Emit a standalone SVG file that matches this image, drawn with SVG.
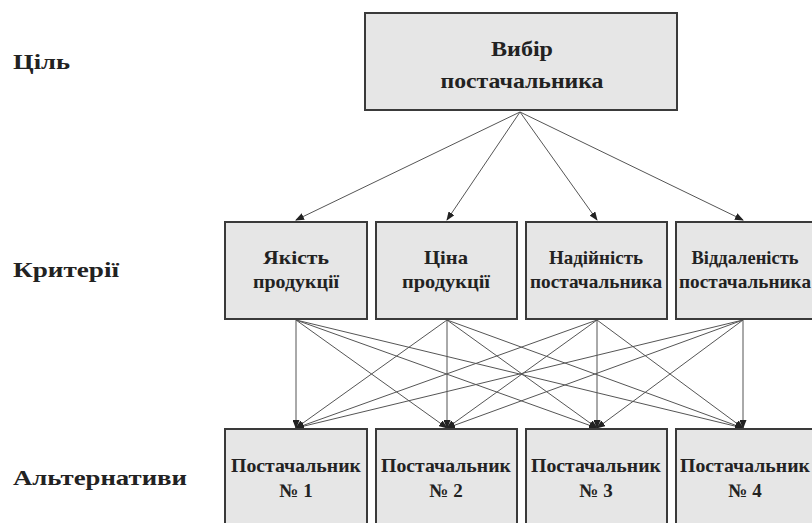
<svg xmlns="http://www.w3.org/2000/svg" width="812" height="523" viewBox="0 0 812 523">
<style>
.box{fill:#e6e6e6;stroke:#3a3a3a;stroke-width:2}
.t{font-family:"Liberation Serif","DejaVu Serif",serif;font-weight:bold;fill:#222;text-anchor:middle}
.lbl{font-family:"Liberation Serif","DejaVu Serif",serif;font-weight:bold;fill:#222;font-size:22px}
.c line{stroke:#555;stroke-width:1;marker-end:url(#ah)}
</style>
<defs>
<marker id="ah" markerWidth="9" markerHeight="7" refX="8" refY="3.5" orient="auto" markerUnits="userSpaceOnUse">
<path d="M0,0 L9,3.5 L0,7 z" fill="#222"/>
</marker>
</defs>
<rect width="812" height="523" fill="#fff"/>
<g id="labels">
<text class="lbl" x="13" y="69" textLength="57" lengthAdjust="spacingAndGlyphs">Ціль</text>
<text class="lbl" x="13" y="277" textLength="106" lengthAdjust="spacingAndGlyphs">Критерії</text>
<text class="lbl" x="13" y="485" textLength="174" lengthAdjust="spacingAndGlyphs">Альтернативи</text>
</g>
<g class="c" id="connectors">
<line x1="520" y1="112" x2="296" y2="220"/>
<line x1="520" y1="112" x2="447" y2="220"/>
<line x1="520" y1="112" x2="597" y2="220"/>
<line x1="520" y1="112" x2="743" y2="220"/>
<line x1="296" y1="320" x2="296" y2="428"/>
<line x1="296" y1="320" x2="447" y2="428"/>
<line x1="296" y1="320" x2="597" y2="428"/>
<line x1="296" y1="320" x2="743" y2="428"/>
<line x1="447" y1="320" x2="296" y2="428"/>
<line x1="447" y1="320" x2="447" y2="428"/>
<line x1="447" y1="320" x2="597" y2="428"/>
<line x1="447" y1="320" x2="743" y2="428"/>
<line x1="597" y1="320" x2="296" y2="428"/>
<line x1="597" y1="320" x2="447" y2="428"/>
<line x1="597" y1="320" x2="597" y2="428"/>
<line x1="597" y1="320" x2="743" y2="428"/>
<line x1="743" y1="320" x2="296" y2="428"/>
<line x1="743" y1="320" x2="447" y2="428"/>
<line x1="743" y1="320" x2="597" y2="428"/>
<line x1="743" y1="320" x2="743" y2="428"/>
</g>
<g id="goal">
<rect class="box" x="365" y="13" width="312" height="97"/>
<text class="t" font-size="22" x="522" y="56" textLength="62" lengthAdjust="spacingAndGlyphs">Вибір</text>
<text class="t" font-size="22" x="522" y="88" textLength="163" lengthAdjust="spacingAndGlyphs">постачальника</text>
</g>
<g id="c1">
<rect class="box" x="225" y="222" width="142" height="97"/>
<text class="t" font-size="19" x="296" y="264" textLength="66" lengthAdjust="spacingAndGlyphs">Якість</text>
<text class="t" font-size="19" x="296" y="288" textLength="86" lengthAdjust="spacingAndGlyphs">продукції</text>
</g>
<g id="c2">
<rect class="box" x="376" y="222" width="141" height="97"/>
<text class="t" font-size="19" x="446" y="264" textLength="44" lengthAdjust="spacingAndGlyphs">Ціна</text>
<text class="t" font-size="19" x="446" y="288" textLength="88" lengthAdjust="spacingAndGlyphs">продукції</text>
</g>
<g id="c3">
<rect class="box" x="526" y="222" width="141" height="97"/>
<text class="t" font-size="19" x="596" y="264" textLength="94" lengthAdjust="spacingAndGlyphs">Надійність</text>
<text class="t" font-size="19" x="596" y="288" textLength="132" lengthAdjust="spacingAndGlyphs">постачальника</text>
</g>
<g id="c4">
<rect class="box" x="676" y="222" width="142" height="97"/>
<text class="t" font-size="19" x="745" y="264" textLength="107" lengthAdjust="spacingAndGlyphs">Віддаленість</text>
<text class="t" font-size="19" x="745" y="288" textLength="132" lengthAdjust="spacingAndGlyphs">постачальника</text>
</g>
<g id="a1">
<rect class="box" x="225" y="429" width="142" height="110"/>
<text class="t" font-size="19" x="296" y="472" textLength="130" lengthAdjust="spacingAndGlyphs">Постачальник</text>
<text class="t" font-size="19" x="296" y="497">№ 1</text>
</g>
<g id="a2">
<rect class="box" x="376" y="429" width="141" height="110"/>
<text class="t" font-size="19" x="446" y="472" textLength="130" lengthAdjust="spacingAndGlyphs">Постачальник</text>
<text class="t" font-size="19" x="446" y="497">№ 2</text>
</g>
<g id="a3">
<rect class="box" x="526" y="429" width="141" height="110"/>
<text class="t" font-size="19" x="596" y="472" textLength="130" lengthAdjust="spacingAndGlyphs">Постачальник</text>
<text class="t" font-size="19" x="596" y="497">№ 3</text>
</g>
<g id="a4">
<rect class="box" x="676" y="429" width="142" height="110"/>
<text class="t" font-size="19" x="745" y="472" textLength="130" lengthAdjust="spacingAndGlyphs">Постачальник</text>
<text class="t" font-size="19" x="745" y="497">№ 4</text>
</g>
</svg>
